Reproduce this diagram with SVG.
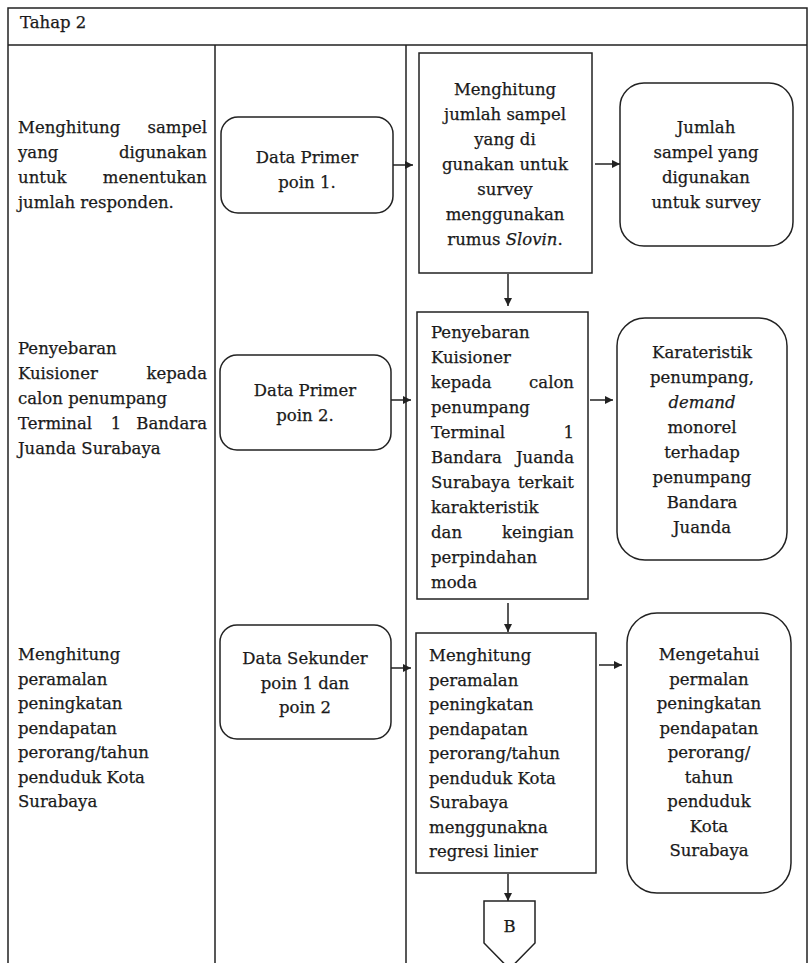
<svg xmlns="http://www.w3.org/2000/svg" width="808" height="963" viewBox="0 0 808 963">
<style>
.ln{stroke:#222;stroke-width:1.5;fill:none}
.bx{stroke:#222;stroke-width:1.5;fill:#fff}
text{font-family:"DejaVu Serif","Liberation Serif",serif;font-size:16.5px;fill:#1a1a1a;stroke:#1a1a1a;stroke-width:0.25}
.c{text-anchor:middle}
.e{text-anchor:end}
.i{font-style:italic}
.cn{stroke:#222;stroke-width:1.5;fill:none;marker-end:url(#ah)}
</style>
<defs>
<marker id="ah" markerUnits="userSpaceOnUse" markerWidth="9" markerHeight="8" viewBox="0 0 10 10" refX="10" refY="5" orient="auto">
<path d="M0,0 L10,5 L0,10 z" fill="#222"/>
</marker>
</defs>
<rect width="808" height="963" fill="#fff"/>
<g id="frame">
<path class="ln" d="M8,963 V8 H807 V963 M8,45 H807 M215,45 V963 M406,45 V963"/>
<text x="20" y="28">Tahap 2</text>
</g>
<g id="lane-text-1">
<text x="18" y="133">Menghitung</text><text class="e" x="207" y="133">sampel</text>
<text x="18" y="158">yang</text><text class="e" x="207" y="158">digunakan</text>
<text x="18" y="183">untuk</text><text class="e" x="207" y="183">menentukan</text>
<text x="18" y="208">jumlah responden.</text>
</g>
<g id="lane-text-2">
<text x="18" y="354">Penyebaran</text>
<text x="18" y="379">Kuisioner</text><text class="e" x="207" y="379">kepada</text>
<text x="18" y="404">calon penumpang</text>
<text x="18" y="429">Terminal</text><text class="c" x="116" y="429">1</text><text class="e" x="207" y="429">Bandara</text>
<text x="18" y="454">Juanda Surabaya</text>
</g>
<g id="lane-text-3">
<text x="18" y="660">Menghitung</text>
<text x="18" y="684.5">peramalan</text>
<text x="18" y="709">peningkatan</text>
<text x="18" y="733.5">pendapatan</text>
<text x="18" y="758">perorang/tahun</text>
<text x="18" y="782.5">penduduk Kota</text>
<text x="18" y="807">Surabaya</text>
</g>
<g id="data-primer-1">
<rect class="bx" x="221" y="117" width="172" height="96" rx="17"/>
<text class="c" x="307" y="163">Data Primer</text>
<text class="c" x="307" y="188">poin 1.</text>
</g>
<g id="data-primer-2">
<rect class="bx" x="220" y="355" width="171" height="95" rx="17"/>
<text class="c" x="305" y="396">Data Primer</text>
<text class="c" x="305" y="421">poin 2.</text>
</g>
<g id="data-sekunder">
<rect class="bx" x="220" y="625" width="171" height="114" rx="17"/>
<text class="c" x="305" y="664">Data Sekunder</text>
<text class="c" x="305" y="689">poin 1 dan</text>
<text class="c" x="305" y="713">poin 2</text>
</g>
<g id="proses-1">
<rect class="bx" x="419" y="53" width="173" height="220"/>
<text class="c" x="505" y="95">Menghitung</text>
<text class="c" x="505" y="120">jumlah sampel</text>
<text class="c" x="505" y="145">yang di</text>
<text class="c" x="505" y="170">gunakan untuk</text>
<text class="c" x="505" y="195">survey</text>
<text class="c" x="505" y="220">menggunakan</text>
<text class="c" x="505" y="245">rumus <tspan class="i">Slovin</tspan>.</text>
</g>
<g id="hasil-1">
<rect class="bx" x="620" y="83" width="173" height="163" rx="24"/>
<text class="c" x="706" y="133">Jumlah</text>
<text class="c" x="706" y="158">sampel yang</text>
<text class="c" x="706" y="183">digunakan</text>
<text class="c" x="706" y="208">untuk survey</text>
</g>
<g id="proses-2">
<rect class="bx" x="417" y="312" width="171" height="287"/>
<text x="431" y="338">Penyebaran</text>
<text x="431" y="363">Kuisioner</text>
<text x="431" y="388">kepada</text><text class="e" x="574" y="388">calon</text>
<text x="431" y="413">penumpang</text>
<text x="431" y="438">Terminal</text><text class="e" x="574" y="438">1</text>
<text x="431" y="463">Bandara</text><text class="e" x="574" y="463">Juanda</text>
<text x="431" y="488">Surabaya</text><text class="e" x="574" y="488">terkait</text>
<text x="431" y="513">karakteristik</text>
<text x="431" y="538">dan</text><text class="e" x="574" y="538">keingian</text>
<text x="431" y="563">perpindahan</text>
<text x="431" y="588">moda</text>
</g>
<g id="hasil-2">
<rect class="bx" x="617" y="318" width="170" height="242" rx="28"/>
<text class="c" x="702" y="358">Karateristik</text>
<text class="c" x="702" y="383">penumpang,</text>
<text class="c i" x="702" y="408">demand</text>
<text class="c" x="702" y="433">monorel</text>
<text class="c" x="702" y="458">terhadap</text>
<text class="c" x="702" y="483">penumpang</text>
<text class="c" x="702" y="508">Bandara</text>
<text class="c" x="702" y="533">Juanda</text>
</g>
<g id="proses-3">
<rect class="bx" x="416" y="633" width="180" height="240"/>
<text x="429" y="661">Menghitung</text>
<text x="429" y="685.5">peramalan</text>
<text x="429" y="710">peningkatan</text>
<text x="429" y="734.5">pendapatan</text>
<text x="429" y="759">perorang/tahun</text>
<text x="429" y="783.5">penduduk Kota</text>
<text x="429" y="808">Surabaya</text>
<text x="429" y="832.5">menggunakna</text>
<text x="429" y="857">regresi linier</text>
</g>
<g id="hasil-3">
<rect class="bx" x="627" y="613" width="164" height="280" rx="30"/>
<text class="c" x="709" y="660">Mengetahui</text>
<text class="c" x="709" y="684.5">permalan</text>
<text class="c" x="709" y="709">peningkatan</text>
<text class="c" x="709" y="733.5">pendapatan</text>
<text class="c" x="709" y="758">perorang/</text>
<text class="c" x="709" y="782.5">tahun</text>
<text class="c" x="709" y="807">penduduk</text>
<text class="c" x="709" y="831.5">Kota</text>
<text class="c" x="709" y="856">Surabaya</text>
</g>
<g id="konektor-B">
<path class="bx" d="M484,901 H535 V943 L509.5,969 L484,943 Z"/>
<text class="c" x="509.5" y="932">B</text>
</g>
<g id="connectors">
<path class="cn" d="M393,165 H413"/>
<path class="cn" d="M595,164 H620"/>
<path class="cn" d="M508,274 V306"/>
<path class="cn" d="M391,400 H411"/>
<path class="cn" d="M590,400 H613"/>
<path class="cn" d="M508,603 V632"/>
<path class="cn" d="M391,668 H411"/>
<path class="cn" d="M599,665 H622"/>
<path class="cn" d="M508,874 V901"/>
</g>
</svg>
